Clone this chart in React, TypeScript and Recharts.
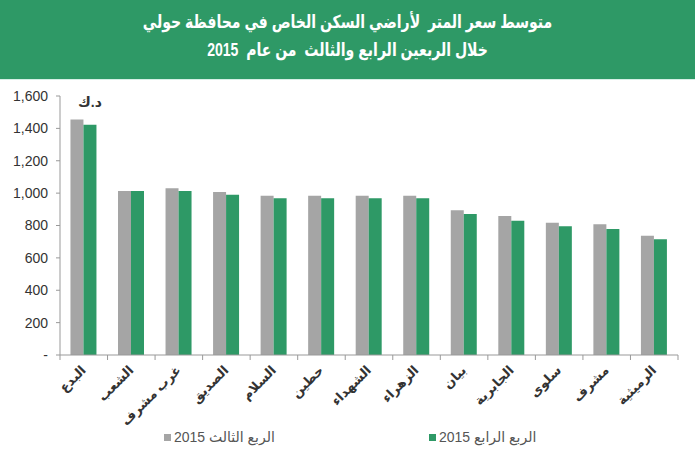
import React from "react";
import { Bar, BarChart, Legend, XAxis, YAxis } from "recharts";

const areas = [
  "البدع",
  "الشعب",
  "غرب مشرف",
  "الصديق",
  "السلام",
  "حطين",
  "الشهداء",
  "الزهراء",
  "بيان",
  "الجابرية",
  "سلوى",
  "مشرف",
  "الرميثية",
];
const q3 = [1455, 1013, 1030, 1007, 984, 984, 984, 984, 894, 859, 817, 807, 737];
const q4 = [1423, 1013, 1013, 990, 968, 968, 968, 968, 871, 830, 795, 778, 715];
const yTicks = [0, 200, 400, 600, 800, 1000, 1200, 1400, 1600];

const seriesNames = ["الربع الثالث 2015", "الربع الرابع 2015"];
const titleLines = [
  "متوسط سعر المتر  لأراضي السكن الخاص في محافظة حولي",
  "خلال الربعين الرابع والثالث  من عام  2015",
];
const unitLabel = "د.ك";

const GREEN = "#2E9966";
const GRAY = "#A5A5A5";
const FONT = "'Liberation Sans', Arial, 'DejaVu Sans', sans-serif";

const data = areas.map((name, i) => ({ name, q3: q3[i], q4: q4[i] }));

const fmtY = (v: number) => (v === 0 ? "-" : v.toLocaleString("en-US"));

function AreaTick(props: any) {
  const { x, y, payload, index } = props;
  const half = payload?.offset ?? 23.8;
  return (
    <g>
      <line x1={x - half} x2={x - half} y1={y - 8} y2={y - 3} stroke="#999" />
      {index === areas.length - 1 && (
        <line x1={x + half} x2={x + half} y1={y - 8} y2={y - 3} stroke="#999" />
      )}
      <text
        x={x + 3}
        y={y + 8}
        transform={`rotate(-45, ${x + 3}, ${y + 8})`}
        textAnchor="end"
        fontSize={13}
        fontWeight="bold"
        fill="#333"
        fontFamily={FONT}
      >
        {payload.value}
      </text>
    </g>
  );
}

function LegendBox() {
  const items = [
    { label: seriesNames[0], color: GRAY, left: 164 },
    { label: seriesNames[1], color: GREEN, left: 429 },
  ];
  return (
    <div style={{ position: "relative", height: 24 }}>
      {items.map((it) => (
        <div
          key={it.label}
          style={{
            position: "absolute",
            left: it.left,
            top: 3,
            display: "flex",
            alignItems: "center",
            gap: 3,
            fontFamily: FONT,
            fontSize: 14,
            color: "#555",
          }}
        >
          <span style={{ width: 7, height: 7, background: it.color, display: "inline-block" }} />
          <span>{it.label}</span>
        </div>
      ))}
    </div>
  );
}

export default function App() {
  return (
    <div
      style={{
        position: "absolute",
        left: 0,
        top: 0,
        width: 695,
        height: 450,
        background: "#fff",
        overflow: "hidden",
        fontFamily: FONT,
      }}
    >
      <div
        style={{
          height: 79,
          background: GREEN,
          color: "#fff",
          fontWeight: "bold",
          fontSize: 18,
          direction: "rtl",
          textAlign: "center",
          display: "flex",
          flexDirection: "column",
          justifyContent: "center",
          lineHeight: "28px",
          paddingBottom: 8,
          boxSizing: "border-box",
          whiteSpace: "pre",
        }}
      >
        {titleLines.map((t) => (
          <div key={t} style={{ transform: "scaleX(0.78)" }}>
            {t}
          </div>
        ))}
      </div>
      <div style={{ height: 1, background: "#D6EFE6" }} />
      <div style={{ position: "absolute", left: 78, top: 94, fontSize: 14, fontWeight: "bold", color: "#333" }}>
        {unitLabel}
      </div>
      <div style={{ position: "absolute", left: 0, top: 79 }}>
        <BarChart
          width={695}
          height={371}
          data={data}
          margin={{ top: 17, right: 17, left: 0, bottom: 0 }}
          barCategoryGap="22%"
          barGap={0}
        >
          <XAxis
            dataKey="name"
            interval={0}
            height={71}
            tickLine={false}
            axisLine={{ stroke: "#999" }}
            tick={<AreaTick />}
          />
          <YAxis
            width={60}
            domain={[0, 1600]}
            ticks={yTicks}
            tickFormatter={fmtY}
            axisLine={{ stroke: "#999" }}
            tickLine={{ stroke: "#999" }}
            tickSize={4}
            tickMargin={8}
            tick={{ fill: "#333", fontSize: 14, fontFamily: FONT }}
          />
          <Legend verticalAlign="bottom" height={24} content={<LegendBox />} />
          <Bar dataKey="q3" name={seriesNames[0]} fill={GRAY} isAnimationActive={false} />
          <Bar dataKey="q4" name={seriesNames[1]} fill={GREEN} isAnimationActive={false} />
        </BarChart>
      </div>
    </div>
  );
}
